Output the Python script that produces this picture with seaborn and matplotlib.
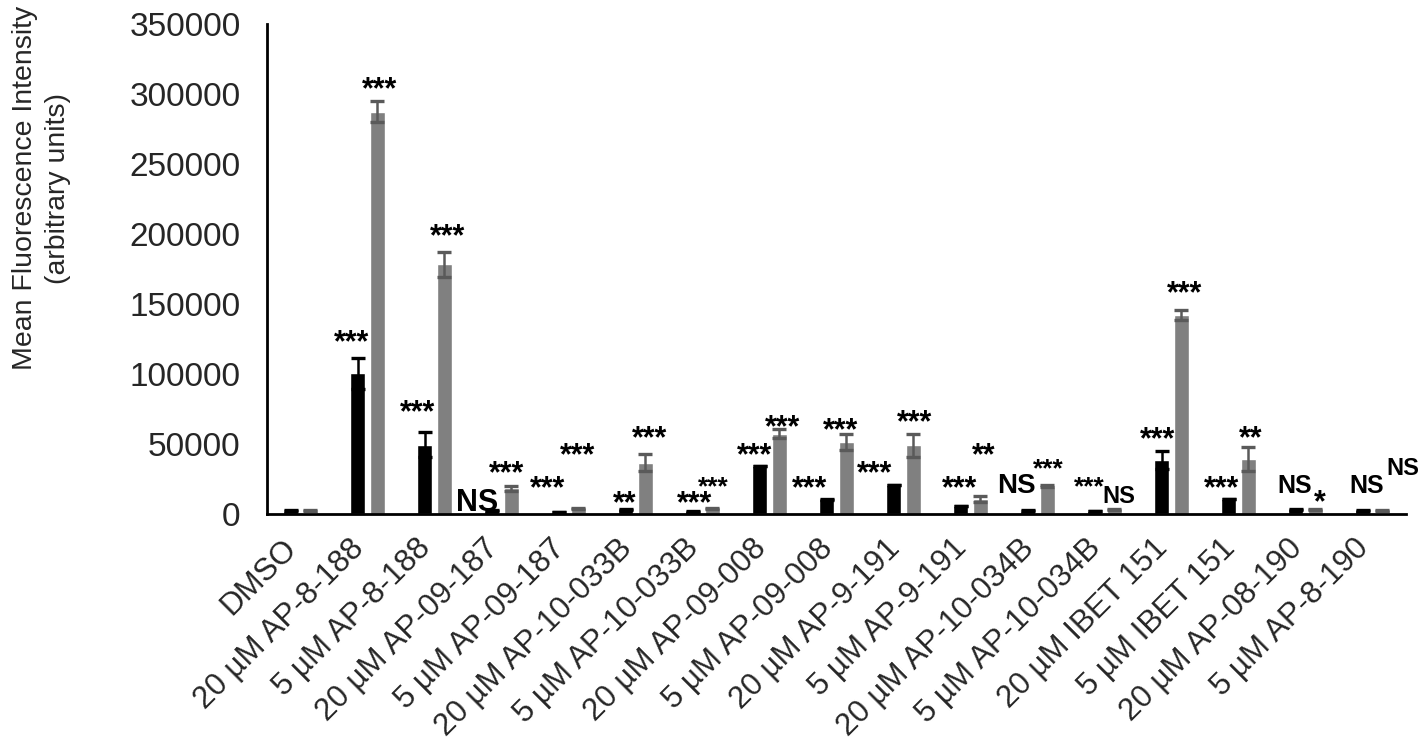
import numpy as np
import pandas as pd
import matplotlib
matplotlib.use("Agg")
import matplotlib.pyplot as plt
import matplotlib.transforms as mtransforms
import seaborn as sns

# treatments on the x axis
treatments = ["DMSO", "20 µM AP-8-188", "5 µM AP-8-188", "20 µM AP-09-187",
              "5 µM AP-09-187", "20 µM AP-10-033B", "5 µM AP-10-033B",
              "20 µM AP-09-008", "5 µM AP-09-008", "20 µM AP-9-191",
              "5 µM AP-9-191", "20 µM AP-10-034B", "5 µM AP-10-034B",
              "20 µM IBET 151", "5 µM IBET 151", "20 µM AP-08-190",
              "5 µM AP-8-190"]
series = ["A", "B"]

# mean fluorescence intensity, two series (black / grey)
mfi_a = [2500, 100500, 49500, 2500, 1500, 3300, 2000, 34300, 10500, 20700,
         5700, 2400, 2300, 38600, 10700, 3300, 2600]
err_a = [300, 11000, 9000, 300, 200, 500, 300, 300, 300, 300,
         300, 200, 200, 6400, 300, 300, 300]
mfi_b = [2500, 287500, 178300, 18300, 4000, 36800, 4000, 57400, 51400, 49200,
         10700, 20000, 3300, 142100, 39600, 3300, 2600]
err_b = [300, 7500, 8700, 1800, 500, 6000, 500, 3200, 5500, 8200,
         2400, 800, 400, 3600, 8600, 300, 300]

# significance labels for each bar
sig_a = ["", "***", "***", "NS", "***", "**", "***", "***", "***", "***",
         "***", "NS", "***", "***", "***", "NS", "NS"]
sig_b = ["", "***", "***", "***", "***", "***", "***", "***", "***", "***",
         "**", "***", "NS", "***", "**", "*", "NS"]
# where the labels sit (value of the label centre, shift from group centre)
sig_a_y = [0, 128600, 78600, 10000, 25000, 13600, 13600, 48100, 25000, 35700,
           25000, 22100, 25000, 60000, 24300, 21400, 21400]
sig_a_dx = [0, -0.24, -0.25, -0.37, -0.31, -0.16, -0.12, -0.22, -0.40, -0.43,
            -0.16, -0.31, -0.22, -0.21, -0.25, -0.16, -0.08]
sig_a_fs = [22, 22, 22, 22, 22, 22, 22, 22, 22, 22, 22, 20, 19, 22, 22, 18, 18]
sig_b_y = [0, 309500, 205000, 35700, 48100, 60700, 25000, 68300, 66400, 72100,
           48100, 38100, 13600, 163600, 60500, 15000, 33800]
sig_b_dx = [0, 0.18, 0.20, 0.07, 0.13, 0.21, 0.16, 0.20, 0.06, 0.17,
            0.20, 0.16, 0.22, 0.20, 0.19, 0.22, 0.45]
sig_b_fs = [22, 22, 22, 22, 22, 22, 19, 22, 22, 22, 22, 19, 17, 22, 22, 22, 17]

df = pd.DataFrame({
    "treatment": treatments * 2,
    "series": [series[0]] * len(treatments) + [series[1]] * len(treatments),
    "mfi": mfi_a + mfi_b,
})

sns.set_theme(style="white")
plt.rcParams["font.family"] = ["Liberation Sans", "DejaVu Sans"]

fig = plt.figure(figsize=(14.22, 7.44), dpi=100)
ax = fig.add_axes([0.1878, 0.3091, 0.8009, 0.6586])

sns.barplot(data=df, x="treatment", y="mfi", hue="series", order=treatments,
            hue_order=series, palette=["#000000", "#808080"], errorbar=None,
            width=0.58, gap=0.23, saturation=1, legend=False, ax=ax)

err_cols = ["#000000", "#5a5a5a"]
for cont, vals, errs, col in zip(ax.containers, [mfi_a, mfi_b], [err_a, err_b], err_cols):
    xs = [b.get_x() + b.get_width() / 2 for b in cont]
    ax.errorbar(xs, vals, yerr=errs, fmt="none", ecolor=col, elinewidth=1.8,
                capsize=5, capthick=2.4, zorder=3)

def put_labels(labels, ys, dxs, sizes):
    for i, (lab, y, dx, fs) in enumerate(zip(labels, ys, dxs, sizes)):
        if not lab:
            continue
        # stars sit high in the em box, so shift baseline down
        drop = 0.58 * fs if "*" in lab else 0.36 * fs
        ax.annotate(lab, (i + dx, y), xytext=(0, -drop), textcoords="offset points",
                    ha="center", va="baseline", fontsize=fs, fontweight="bold",
                    color="black", annotation_clip=False)

put_labels(sig_a, sig_a_y, sig_a_dx, sig_a_fs)
put_labels(sig_b, sig_b_y, sig_b_dx, sig_b_fs)

ax.set_xlim(-0.5, len(treatments) - 0.5)
ax.set_ylim(0, 350000)
ax.set_yticks(np.arange(0, 350001, 50000))
ax.set_yticklabels([f"{v:d}" for v in range(0, 350001, 50000)], fontsize=24)
ax.tick_params(axis="y", length=0, pad=19)
ax.tick_params(axis="x", length=0, pad=0)
ax.set_xticks(range(len(treatments)))
ax.set_xticklabels(treatments, rotation=45, ha="right", va="center",
                   rotation_mode="anchor", fontsize=22.5)
shift = mtransforms.ScaledTranslation(-8 / 100, -30 / 100, fig.dpi_scale_trans)
for lab in ax.get_xticklabels():
    lab.set_transform(lab.get_transform() + shift)

ax.set_xlabel("")
ax.set_ylabel("")
fig.text(0.0295, 1 - 188 / 744, "Mean Fluorescence Intensity\n(arbitrary units)",
         rotation=90, ha="center", va="center", multialignment="center",
         fontsize=20.5, linespacing=1.35)

sns.despine(ax=ax)
for s in ["left", "bottom"]:
    ax.spines[s].set_color("black")
    ax.spines[s].set_linewidth(2)

fig.savefig("out.png", dpi=100)
